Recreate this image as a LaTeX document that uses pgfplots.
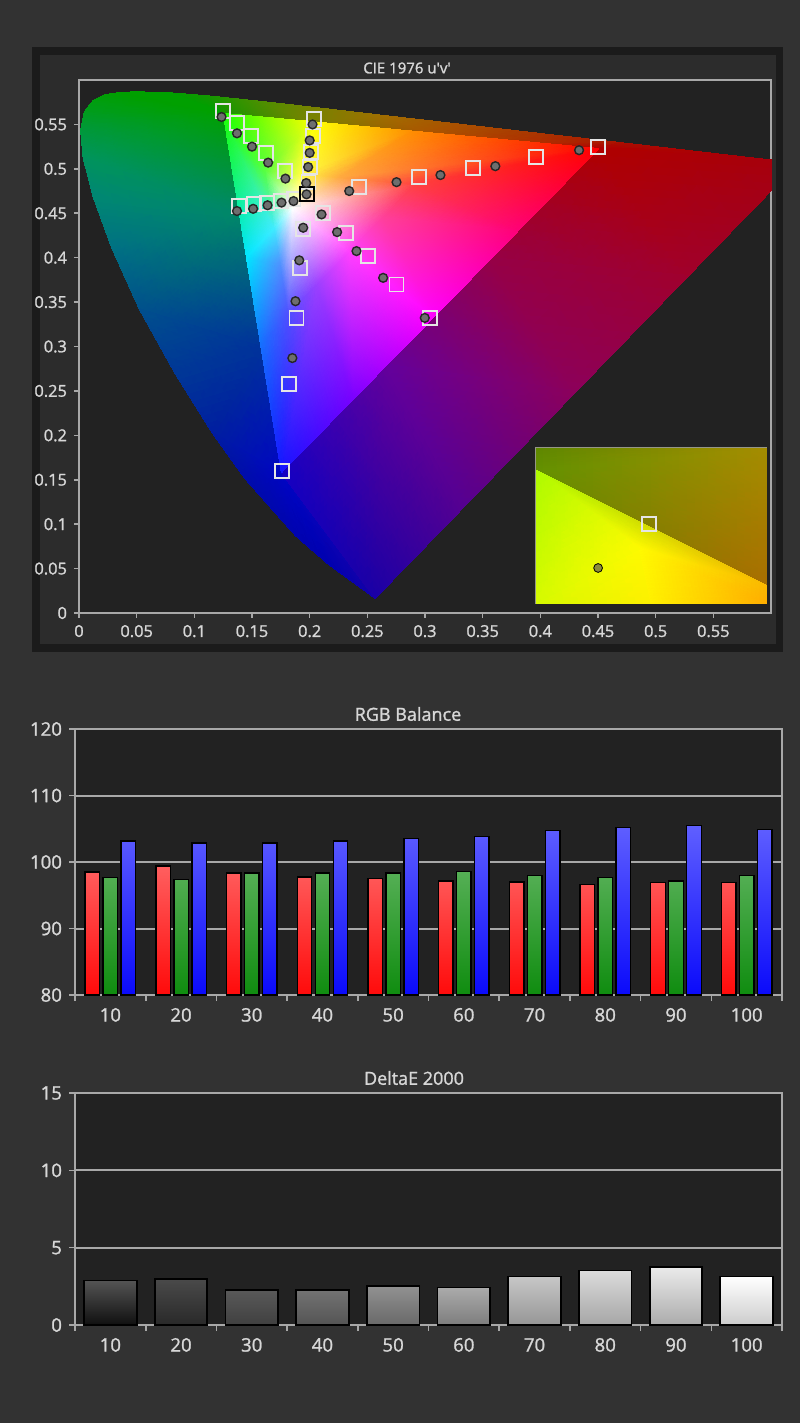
\documentclass[border=0pt]{standalone}
\usepackage{fontspec}
\setmainfont{Open Sans}
\newfontfamily\lblfont[FakeBold=1.3]{Open Sans}
\usepackage{pgfplots}
\usepackage{pgfplotstable}
\pgfplotsset{compat=1.18}

\definecolor{pagebg}{RGB}{50,50,50}
\definecolor{framec}{RGB}{27,27,27}
\definecolor{panelc}{RGB}{44,44,44}
\definecolor{plotbg}{RGB}{34,34,34}
\definecolor{linec}{RGB}{168,168,168}
\definecolor{textc}{RGB}{215,215,215}
\definecolor{insetc}{RGB}{150,150,135}

% RGB balance, step i = 10% ... 100%
\pgfplotstableread{
i r g b
1 98.5 97.65 103.15
2 99.4 97.4 102.85
3 98.35 98.35 102.85
4 97.75 98.35 103.15
5 97.5 98.35 103.5
6 97.15 98.55 103.85
7 97.0 98.0 104.75
8 96.65 97.65 105.15
9 96.95 97.15 105.45
10 96.95 98.0 104.9
}\rgbdata

\pgfplotsset{
  darkaxis/.style={
    scale only axis, anchor=south west,
    axis background/.style={fill=plotbg},
    axis line style={linec, line width=0.9pt},
    tick style={linec, line width=0.8pt},
    tick align=outside, tick pos=left,
    ticklabel style={text=textc},
  },
  target/.style={only marks, mark=square, mark size=3.5pt,
    mark options={draw=white!90!black, line width=0.95pt}},
  meas/.style={only marks, mark=*, mark size=2.2pt,
    mark options={draw=black!85, fill=black!57, line width=0.7pt}},
  barchart/.style={darkaxis,
    width=353.5pt, xmin=0.5, xmax=10.5,
    xtick={1,...,10}, xticklabels={10,20,30,40,50,60,70,80,90,100},
    minor xtick={0.5,1.5,...,10.5},
    major x tick style={draw=none}, minor tick length=3pt, major tick length=3pt,
    ymajorgrids, grid style={linec, line width=1pt},
    ticklabel style={font=\lblfont\fontsize{9.3}{11}\selectfont},
  },
  gbar/.style n args={3}{ybar, bar width=26.3pt, bar shift=0pt, draw=black, line width=0.9pt,
    top color=white!#1!black, middle color=white!#2!black, bottom color=white!#3!black},
}

\begin{document}
\begin{tikzpicture}
\path[use as bounding box, fill=pagebg] (0pt,0pt) rectangle (400pt,-711.5pt);
\begin{scope}[x=0.5pt, y=-0.5pt]
  \fill[framec] (32,47) rectangle (783,652);
  \fill[panelc] (40,55) rectangle (776,644);
\end{scope}

% ---------------- CIE 1976 u'v'
\begin{axis}[darkaxis, at={(39.5pt,-306.5pt)}, width=346pt, height=266.5pt,
  xmin=0, xmax=0.6, ymin=0, ymax=0.6,
  xtick={0,0.05,0.1,0.15,0.2,0.25,0.3,0.35,0.4,0.45,0.5,0.55},
  xticklabels={0,0.05,0.1,0.15,0.2,0.25,0.3,0.35,0.4,0.45,0.5,0.55},
  ytick={0,0.05,0.1,0.15,0.2,0.25,0.3,0.35,0.4,0.45,0.5,0.55},
  yticklabels={0,0.05,0.1,0.15,0.2,0.25,0.3,0.35,0.4,0.45,0.5,0.55},
  major tick length=2.5pt,
  ticklabel style={font=\lblfont\fontsize{8.2}{9}\selectfont},
]
% spectral locus outside the display gamut
\addplot[patch, shader=interp, mesh/color input=explicit, point meta=explicit symbolic]
table[meta=c] {
x y c
0.1250 0.5625 rgb255=0,160,0
0.1127 0.5821 rgb255=20,150,0
0.0792 0.5856 rgb255=0,158,0
0.1250 0.5625 rgb255=0,160,0
0.0792 0.5856 rgb255=0,158,0
0.0501 0.5868 rgb255=0,158,0
0.1250 0.5625 rgb255=0,160,0
0.0501 0.5868 rgb255=0,158,0
0.0360 0.5861 rgb255=0,158,0
0.1250 0.5625 rgb255=0,160,0
0.0360 0.5861 rgb255=0,158,0
0.0231 0.5837 rgb255=0,158,5
0.1250 0.5625 rgb255=0,160,0
0.0231 0.5837 rgb255=0,158,5
0.0123 0.5770 rgb255=0,158,15
0.1250 0.5625 rgb255=0,160,0
0.0123 0.5770 rgb255=0,158,15
0.0046 0.5638 rgb255=0,156,30
0.1250 0.5625 rgb255=0,160,0
0.0046 0.5638 rgb255=0,156,30
0.0014 0.5432 rgb255=0,152,60
0.1250 0.5625 rgb255=0,160,0
0.0014 0.5432 rgb255=0,152,60
0.0035 0.5131 rgb255=0,148,92
0.1250 0.5625 rgb255=0,160,0
0.0035 0.5131 rgb255=0,148,92
0.1390 0.4500 rgb255=0,135,105
0.1390 0.4500 rgb255=0,135,105
0.0035 0.5131 rgb255=0,148,92
0.0119 0.4698 rgb255=0,135,115
0.1390 0.4500 rgb255=0,135,105
0.0119 0.4698 rgb255=0,135,115
0.0282 0.4117 rgb255=0,112,132
0.1390 0.4500 rgb255=0,135,105
0.0282 0.4117 rgb255=0,112,132
0.0521 0.3427 rgb255=0,80,140
0.1390 0.4500 rgb255=0,135,105
0.0521 0.3427 rgb255=0,80,140
0.1577 0.3000 rgb255=0,50,155
0.1577 0.3000 rgb255=0,50,155
0.0521 0.3427 rgb255=0,80,140
0.0828 0.2708 rgb255=0,55,150
0.1577 0.3000 rgb255=0,50,155
0.0828 0.2708 rgb255=0,55,150
0.1147 0.2044 rgb255=0,30,160
0.1577 0.3000 rgb255=0,50,155
0.1147 0.2044 rgb255=0,30,160
0.1754 0.1579 rgb255=0,5,195
0.1754 0.1579 rgb255=0,5,195
0.1147 0.2044 rgb255=0,30,160
0.1441 0.1510 rgb255=0,12,170
0.1754 0.1579 rgb255=0,5,195
0.1441 0.1510 rgb255=0,12,170
0.1877 0.0871 rgb255=0,3,175
0.1754 0.1579 rgb255=0,5,195
0.1877 0.0871 rgb255=0,3,175
0.2161 0.0550 rgb255=0,0,175
0.1754 0.1579 rgb255=0,5,195
0.2161 0.0550 rgb255=0,0,175
0.2568 0.0165 rgb255=20,0,165
0.1250 0.5625 rgb255=20,150,0
0.1127 0.5821 rgb255=20,150,0
0.1531 0.5766 rgb255=70,145,0
0.1250 0.5625 rgb255=20,150,0
0.1531 0.5766 rgb255=70,145,0
0.2000 0.5534 rgb255=120,130,0
0.2000 0.5534 rgb255=120,130,0
0.1531 0.5766 rgb255=70,145,0
0.2026 0.5694 rgb255=120,130,0
0.2000 0.5534 rgb255=120,130,0
0.2026 0.5694 rgb255=120,130,0
0.2623 0.5604 rgb255=160,110,0
0.2000 0.5534 rgb255=120,130,0
0.2623 0.5604 rgb255=160,110,0
0.3000 0.5412 rgb255=170,85,0
0.3000 0.5412 rgb255=170,85,0
0.2623 0.5604 rgb255=160,110,0
0.3315 0.5501 rgb255=170,80,0
0.3000 0.5412 rgb255=170,85,0
0.3315 0.5501 rgb255=170,80,0
0.4035 0.5393 rgb255=170,50,0
0.3000 0.5412 rgb255=170,85,0
0.4035 0.5393 rgb255=170,50,0
0.4000 0.5290 rgb255=175,45,0
0.4000 0.5290 rgb255=175,45,0
0.4035 0.5393 rgb255=170,50,0
0.4692 0.5296 rgb255=170,20,0
0.4000 0.5290 rgb255=175,45,0
0.4692 0.5296 rgb255=170,20,0
0.4507 0.5229 rgb255=175,0,0
0.4507 0.5229 rgb255=175,0,0
0.4692 0.5296 rgb255=170,15,0
0.5203 0.5219 rgb255=170,5,5
0.4507 0.5229 rgb255=175,0,0
0.5203 0.5219 rgb255=170,5,5
0.5830 0.5125 rgb255=168,0,10
0.4507 0.5229 rgb255=175,0,0
0.5830 0.5125 rgb255=168,0,10
0.6234 0.5065 rgb255=165,0,15
0.4507 0.5229 rgb255=175,0,0
0.6234 0.5065 rgb255=165,0,15
0.5287 0.3800 rgb255=160,0,45
0.4507 0.5229 rgb255=175,0,0
0.5287 0.3800 rgb255=160,0,45
0.3580 0.4000 rgb255=150,0,70
0.3580 0.4000 rgb255=150,0,70
0.5287 0.3800 rgb255=160,0,45
0.4315 0.2500 rgb255=140,0,90
0.3580 0.4000 rgb255=150,0,70
0.4315 0.2500 rgb255=140,0,90
0.2675 0.2800 rgb255=100,0,155
0.2675 0.2800 rgb255=100,0,155
0.4315 0.2500 rgb255=140,0,90
0.3342 0.1200 rgb255=85,0,145
0.2675 0.2800 rgb255=100,0,155
0.3342 0.1200 rgb255=85,0,145
0.2568 0.0165 rgb255=25,0,165
0.2675 0.2800 rgb255=100,0,155
0.2568 0.0165 rgb255=25,0,165
0.1754 0.1579 rgb255=20,0,195
};
% display gamut (Rec.709 triangle)
\addplot[patch, shader=interp, mesh/color input=explicit, point meta=explicit symbolic]
table[meta=c] {
x y c
0.1850 0.4550 rgb255=255,255,255
0.1610 0.4980 rgb255=86,255,64
0.1930 0.4941 rgb255=255,255,64
0.1610 0.4980 rgb255=86,255,64
0.1250 0.5625 rgb255=30,255,0
0.2050 0.5528 rgb255=255,255,0
0.1610 0.4980 rgb255=86,255,64
0.2050 0.5528 rgb255=255,255,0
0.1930 0.4941 rgb255=255,255,64
0.1850 0.4550 rgb255=255,255,255
0.1930 0.4941 rgb255=255,255,64
0.2270 0.4900 rgb255=255,169,64
0.1930 0.4941 rgb255=255,255,64
0.2050 0.5528 rgb255=255,255,0
0.2900 0.5424 rgb255=255,140,0
0.1930 0.4941 rgb255=255,255,64
0.2900 0.5424 rgb255=255,140,0
0.2270 0.4900 rgb255=255,169,64
0.1850 0.4550 rgb255=255,255,255
0.2270 0.4900 rgb255=255,169,64
0.2913 0.4822 rgb255=255,64,64
0.2270 0.4900 rgb255=255,169,64
0.2900 0.5424 rgb255=255,140,0
0.4507 0.5229 rgb255=255,0,0
0.2270 0.4900 rgb255=255,169,64
0.4507 0.5229 rgb255=255,0,0
0.2913 0.4822 rgb255=255,64,64
0.1850 0.4550 rgb255=255,255,255
0.2913 0.4822 rgb255=255,64,64
0.2632 0.4450 rgb255=255,64,154
0.2913 0.4822 rgb255=255,64,64
0.4507 0.5229 rgb255=255,0,0
0.3806 0.4300 rgb255=255,0,120
0.2913 0.4822 rgb255=255,64,64
0.3806 0.4300 rgb255=255,0,120
0.2632 0.4450 rgb255=255,64,154
0.1850 0.4550 rgb255=255,255,255
0.2632 0.4450 rgb255=255,64,154
0.2340 0.4062 rgb255=255,64,255
0.2632 0.4450 rgb255=255,64,154
0.3806 0.4300 rgb255=255,0,120
0.3075 0.3330 rgb255=255,0,255
0.2632 0.4450 rgb255=255,64,154
0.3075 0.3330 rgb255=255,0,255
0.2340 0.4062 rgb255=255,64,255
0.1850 0.4550 rgb255=255,255,255
0.2340 0.4062 rgb255=255,64,255
0.2059 0.3690 rgb255=154,64,255
0.2340 0.4062 rgb255=255,64,255
0.3075 0.3330 rgb255=255,0,255
0.2373 0.2400 rgb255=120,0,255
0.2340 0.4062 rgb255=255,64,255
0.2373 0.2400 rgb255=120,0,255
0.2059 0.3690 rgb255=154,64,255
0.1850 0.4550 rgb255=255,255,255
0.2059 0.3690 rgb255=154,64,255
0.1812 0.3362 rgb255=79,79,255
0.2059 0.3690 rgb255=154,64,255
0.2373 0.2400 rgb255=120,0,255
0.1754 0.1579 rgb255=20,20,255
0.2059 0.3690 rgb255=154,64,255
0.1754 0.1579 rgb255=20,20,255
0.1812 0.3362 rgb255=79,79,255
0.1850 0.4550 rgb255=255,255,255
0.1812 0.3362 rgb255=79,79,255
0.1741 0.3930 rgb255=79,146,255
0.1812 0.3362 rgb255=79,79,255
0.1754 0.1579 rgb255=20,20,255
0.1577 0.3000 rgb255=20,110,255
0.1812 0.3362 rgb255=79,79,255
0.1577 0.3000 rgb255=20,110,255
0.1741 0.3930 rgb255=79,146,255
0.1850 0.4550 rgb255=255,255,255
0.1741 0.3930 rgb255=79,146,255
0.1691 0.4330 rgb255=64,236,255
0.1741 0.3930 rgb255=79,146,255
0.1577 0.3000 rgb255=20,110,255
0.1452 0.4000 rgb255=0,230,255
0.1741 0.3930 rgb255=79,146,255
0.1452 0.4000 rgb255=0,230,255
0.1691 0.4330 rgb255=64,236,255
0.1850 0.4550 rgb255=255,255,255
0.1691 0.4330 rgb255=64,236,255
0.1610 0.4980 rgb255=86,255,64
0.1691 0.4330 rgb255=64,236,255
0.1452 0.4000 rgb255=0,230,255
0.1250 0.5625 rgb255=30,255,0
0.1691 0.4330 rgb255=64,236,255
0.1250 0.5625 rgb255=30,255,0
0.1610 0.4980 rgb255=86,255,64
};
% targets
\addplot[target] coordinates {
(0.1245,0.565)(0.137,0.552)(0.149,0.537)(0.162,0.518)(0.1785,0.4975)
(0.2036,0.556)(0.2025,0.537)(0.201,0.519)(0.200,0.502)(0.199,0.485)
(0.139,0.458)(0.152,0.460)(0.163,0.462)(0.175,0.464)(0.186,0.466)
(0.176,0.160)(0.182,0.258)(0.1886,0.332)(0.192,0.3886)(0.194,0.432)
(0.2429,0.480)(0.2946,0.4912)(0.3417,0.5013)(0.3966,0.5137)(0.4503,0.525)
(0.2117,0.4506)(0.2314,0.4273)(0.2507,0.4017)(0.2753,0.3698)(0.304,0.3326)
};
\addplot[only marks, mark=square, mark size=3.5pt, mark options={draw=black, line width=0.95pt}]
  coordinates {(0.1973,0.4713)};
% measurements
\addplot[meas] coordinates {
(0.1236,0.5584)(0.137,0.540)(0.150,0.525)(0.164,0.507)(0.179,0.489)
(0.2025,0.550)(0.200,0.532)(0.200,0.518)(0.1987,0.502)(0.197,0.484)
(0.137,0.4525)(0.151,0.455)(0.1635,0.459)(0.1756,0.462)(0.186,0.4637)
(0.1944,0.4337)(0.191,0.397)(0.1877,0.351)(0.185,0.287)
(0.2343,0.475)(0.2753,0.485)(0.3134,0.493)(0.361,0.503)(0.4336,0.521)
(0.2103,0.4487)(0.2238,0.4288)(0.2406,0.4074)(0.2637,0.3773)(0.2998,0.3322)
(0.1973,0.4713)
};
\end{axis}

% inset, close-up
\begin{axis}[scale only axis, anchor=south west, at={(268pt,-301.5pt)},
  width=115pt, height=77.5pt, xmin=0, xmax=1, ymin=0, ymax=1,
  ticks=none, axis line style={insetc, line width=1pt}]
\addplot[patch, shader=interp, mesh/color input=explicit, point meta=explicit symbolic]
table[meta=c] {
x y c
0 0.858 rgb255=100,145,0
0 1 rgb255=95,135,0
1 1 rgb255=165,140,0
0 0.858 rgb255=100,145,0
1 1 rgb255=165,140,0
1 0.116 rgb255=170,110,0
0 0 rgb255=215,250,0
0.5 0 rgb255=255,240,0
0.45 0.35 rgb255=255,250,0
0.5 0 rgb255=255,240,0
1 0 rgb255=255,175,0
0.45 0.35 rgb255=255,250,0
1 0 rgb255=255,175,0
1 0.116 rgb255=250,185,0
0.45 0.35 rgb255=255,250,0
1 0.116 rgb255=250,185,0
0 0.858 rgb255=175,250,0
0.45 0.35 rgb255=255,250,0
0 0.858 rgb255=175,250,0
0 0 rgb255=215,250,0
0.45 0.35 rgb255=255,250,0
};
\addplot[target] coordinates {(0.493,0.51)};
\addplot[meas, mark options={fill={rgb,255:red,140;green,140;blue,60}}] coordinates {(0.27,0.226)};
\end{axis}

% ---------------- RGB Balance
\begin{axis}[barchart, at={(37.5pt,-497.5pt)}, height=133pt,
  ymin=0, ymax=40, ytick={0,10,20,30,40}, yticklabels={80,90,100,110,120}]
\addplot[ybar, bar width=7.25pt, bar shift=-9pt, draw=black, line width=0.7pt,
  top color={rgb,255:red,255;green,95;blue,95}, bottom color={rgb,255:red,255;green,10;blue,10}]
  table[x=i, y expr=\thisrow{r}-80] {\rgbdata};
\addplot[ybar, bar width=7.25pt, bar shift=0pt, draw=black, line width=0.7pt,
  top color={rgb,255:red,85;green,175;blue,85}, bottom color={rgb,255:red,15;green,140;blue,15}]
  table[x=i, y expr=\thisrow{g}-80] {\rgbdata};
\addplot[ybar, bar width=7.25pt, bar shift=9pt, draw=black, line width=0.7pt,
  top color={rgb,255:red,95;green,95;blue,255}, bottom color={rgb,255:red,10;green,10;blue,250}]
  table[x=i, y expr=\thisrow{b}-80] {\rgbdata};
\end{axis}

% ---------------- DeltaE 2000
\begin{axis}[barchart, at={(37.5pt,-662.5pt)}, height=116pt,
  ymin=0, ymax=15, ytick={0,5,10,15}, yticklabels={0,5,10,15}]
\addplot[gbar={33}{10}{6}]   coordinates {(1,2.88)};
\addplot[gbar={29}{20}{16}]  coordinates {(2,2.99)};
\addplot[gbar={35}{31}{25}]  coordinates {(3,2.28)};
\addplot[gbar={45}{39}{33}]  coordinates {(4,2.28)};
\addplot[gbar={57}{50}{41}]  coordinates {(5,2.54)};
\addplot[gbar={67}{59}{49}]  coordinates {(6,2.43)};
\addplot[gbar={78}{73}{59}]  coordinates {(7,3.14)};
\addplot[gbar={86}{80}{65}]  coordinates {(8,3.53)};
\addplot[gbar={92}{88}{67}]  coordinates {(9,3.75)};
\addplot[gbar={100}{98}{80}] coordinates {(10,3.14)};
\end{axis}

\begin{scope}[x=0.5pt, y=-0.5pt]
  \node[text=textc, font=\lblfont\fontsize{7.5}{9}\selectfont] at (407,68) {CIE 1976 u\textquotesingle v\textquotesingle};
  \node[text=textc, font=\lblfont\fontsize{9}{11}\selectfont] at (408,714) {RGB Balance};
  \node[text=textc, font=\lblfont\fontsize{9}{11}\selectfont] at (414,1078) {DeltaE 2000};
\end{scope}
\end{tikzpicture}
\end{document}
